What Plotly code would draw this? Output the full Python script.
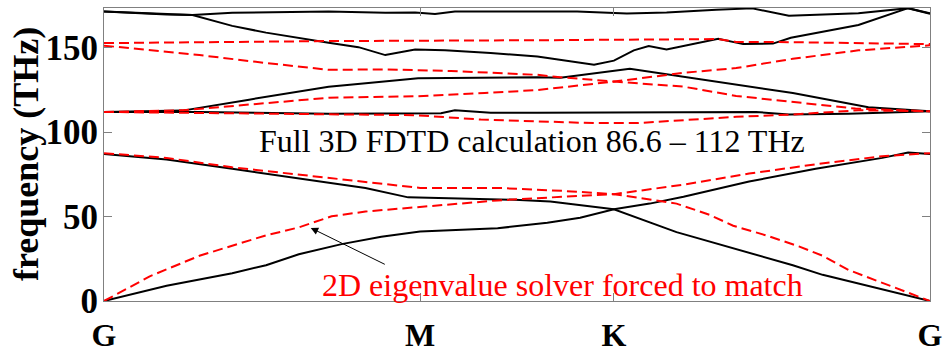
import plotly.graph_objects as go

# Path coordinate along G-M-K-G (arbitrary k-path length units)
PATH_TICKS = [0, 318, 513, 831]
PATH_LABELS = ["G", "M", "K", "G"]
FREQ_TICKS = [0, 50, 100, 150]

# ---- Full 3D FDTD bands (black, solid) ----
fdtd_1_k = [0, 63, 129, 163, 196, 239, 279, 318, 396, 446, 479, 513, 576, 649, 693, 723, 783, 831]
fdtd_1_f = [0, 9, 16.5, 21.2, 27.7, 33.7, 38, 41.2, 43.1, 46.4, 49.3, 54.3, 40.8, 28.7, 21.2, 15.5, 7.1, 0]

fdtd_2_k = [0, 63, 129, 196, 263, 306, 346, 413, 449, 513, 549, 583, 649, 716, 783, 809, 831]
fdtd_2_f = [87.1, 83.9, 78.3, 72.6, 67, 61.4, 61, 60, 59, 54.3, 57.7, 61.8, 70.8, 78.3, 84.8, 88, 87.1]

fdtd_3_k = [0, 96, 226, 339, 353, 389, 436, 526, 626, 656, 689, 749, 831]
fdtd_3_f = [112, 112, 111, 111.2, 113, 111.6, 111.6, 111.6, 111.6, 112, 110.5, 111, 112.4]

fdtd_4_k = [0, 79, 146, 226, 266, 316, 436, 459, 529, 636, 693, 769, 831]
fdtd_4_f = [112, 112.8, 119.3, 127, 129.2, 132, 132.6, 132.3, 137.6, 128.2, 123.2, 114.8, 112.4]

fdtd_5_k = [0, 89, 129, 163, 226, 256, 283, 313, 343, 389, 436, 493, 513, 533, 548,
            566, 618, 643, 673, 691, 759, 809, 831]
fdtd_5_f = [171.5, 169.5, 163, 159, 153, 150.4, 145.7, 149, 148.5, 147, 144.8, 140, 142.4, 148.5, 151,
            149, 155.4, 152.2, 152.5, 156, 163.5, 173.5, 170.4]

fdtd_6_k = [0, 63, 89, 129, 226, 283, 313, 333, 353, 436, 476, 526, 566, 616, 652, 689, 759, 809, 831]
fdtd_6_f = [171.5, 169.7, 169.5, 170.8, 171.5, 170.8, 171, 170, 171.5, 171.5, 171.5, 170.4, 171, 172.5,
            173.4, 169, 170.5, 173.5, 170.2]

# ---- 2D eigenvalue solver bands (red, dashed) ----
eig_1_k = [0, 46, 96, 163, 196, 229, 263, 318, 396, 463, 513, 576, 609, 633, 666, 699, 723, 749, 783, 831]
eig_1_f = [0, 14.6, 26.8, 38.9, 43.6, 50.2, 53, 55.8, 59.6, 61.8, 63.3, 57.7, 51.1, 44.6, 38.9, 32.4,
           26.8, 18.4, 10.8, 0]

eig_2_k = [0, 63, 129, 196, 263, 318, 396, 463, 513, 583, 649, 716, 783, 831]
eig_2_f = [87.6, 84.8, 79.2, 74.9, 70.8, 67, 67, 65.2, 63.3, 68.9, 75.5, 81, 85.8, 87.6]

eig_3_k = [0, 136, 226, 436, 618, 636, 673, 831]
eig_3_f = [152.8, 153.5, 154, 154.5, 155.2, 153.5, 153.5, 152.2]

eig_4_k = [0, 96, 163, 226, 283, 349, 436, 459, 513, 583, 636, 693, 759, 831]
eig_4_f = [151.3, 145.7, 141, 137, 137.2, 136.3, 134, 132.6, 130, 135.2, 138, 143.5, 148.5, 151.5]

eig_5_k = [0, 79, 226, 316, 383, 436, 513, 583, 636, 716, 756, 831]
eig_5_f = [112, 113, 120.4, 121.3, 123.2, 125, 130, 127, 121.5, 116.7, 114, 112.4]

eig_6_k = [0, 96, 226, 313, 379, 426, 493, 536, 593, 636, 693, 759, 831]
eig_6_f = [112, 111.5, 111, 110.1, 107.5, 106.7, 105.4, 105.4, 107.3, 109.1, 110.5, 113, 112.4]

fdtd_bands = [(fdtd_1_k, fdtd_1_f), (fdtd_2_k, fdtd_2_f), (fdtd_3_k, fdtd_3_f),
              (fdtd_4_k, fdtd_4_f), (fdtd_5_k, fdtd_5_f), (fdtd_6_k, fdtd_6_f)]
eig_bands = [(eig_1_k, eig_1_f), (eig_2_k, eig_2_f), (eig_3_k, eig_3_f),
             (eig_4_k, eig_4_f), (eig_5_k, eig_5_f), (eig_6_k, eig_6_f)]

SERIF = "Liberation Serif, Times New Roman, serif"
RED = "#ff0000"

fig = go.Figure()
for k, f in fdtd_bands:
    fig.add_trace(go.Scatter(x=k, y=f, mode="lines", showlegend=False,
                             line=dict(color="black", width=2)))
for k, f in eig_bands:
    fig.add_trace(go.Scatter(x=k, y=f, mode="lines", showlegend=False,
                             line=dict(color=RED, width=2, dash="10px,5px")))

axis_common = dict(
    showgrid=False, zeroline=False, showline=True, linecolor="#808080", linewidth=1,
    mirror="allticks", ticks="inside", ticklen=8, tickcolor="#808080",
)
fig.update_xaxes(range=[0, 831], tickmode="array", tickvals=PATH_TICKS,
                 ticktext=PATH_LABELS, ticklabelstandoff=6,
                 tickfont=dict(family=SERIF, size=32, color="black", weight="bold"),
                 **axis_common)
fig.update_yaxes(range=[0, 173.6], tickmode="array", tickvals=FREQ_TICKS,
                 ticktext=[str(v) for v in FREQ_TICKS], ticklabelstandoff=-2,
                 tickfont=dict(family=SERIF, size=35, color="black", weight="bold"),
                 **axis_common)

fig.add_annotation(x=431, y=95, xref="x", yref="y", showarrow=False,
                   text="Full 3D FDTD calculation 86.6 \u2013 112 THz",
                   font=dict(family=SERIF, size=32, color="black"))
fig.add_annotation(x=461, y=9.5, xref="x", yref="y", showarrow=False,
                   text="2D eigenvalue solver forced to match",
                   font=dict(family=SERIF, size=32, color=RED))
fig.add_annotation(x=208, y=43.3, xref="x", yref="y", ax=284, ay=21.3,
                   axref="x", ayref="y", text="", showarrow=True,
                   arrowhead=2, arrowsize=1.5, arrowwidth=1, arrowcolor="black",
                   standoff=0)
fig.add_annotation(x=-0.095, y=0.5, xref="paper", yref="paper", showarrow=False,
                   xanchor="center", yanchor="middle",
                   text="frequency (THz)", textangle=-90,
                   font=dict(family=SERIF, size=36, color="black", weight="bold"))

fig.update_layout(width=950, height=360, margin=dict(l=104, r=15, t=7, b=44),
                  paper_bgcolor="white", plot_bgcolor="white")

fig.write_html("out.html")
